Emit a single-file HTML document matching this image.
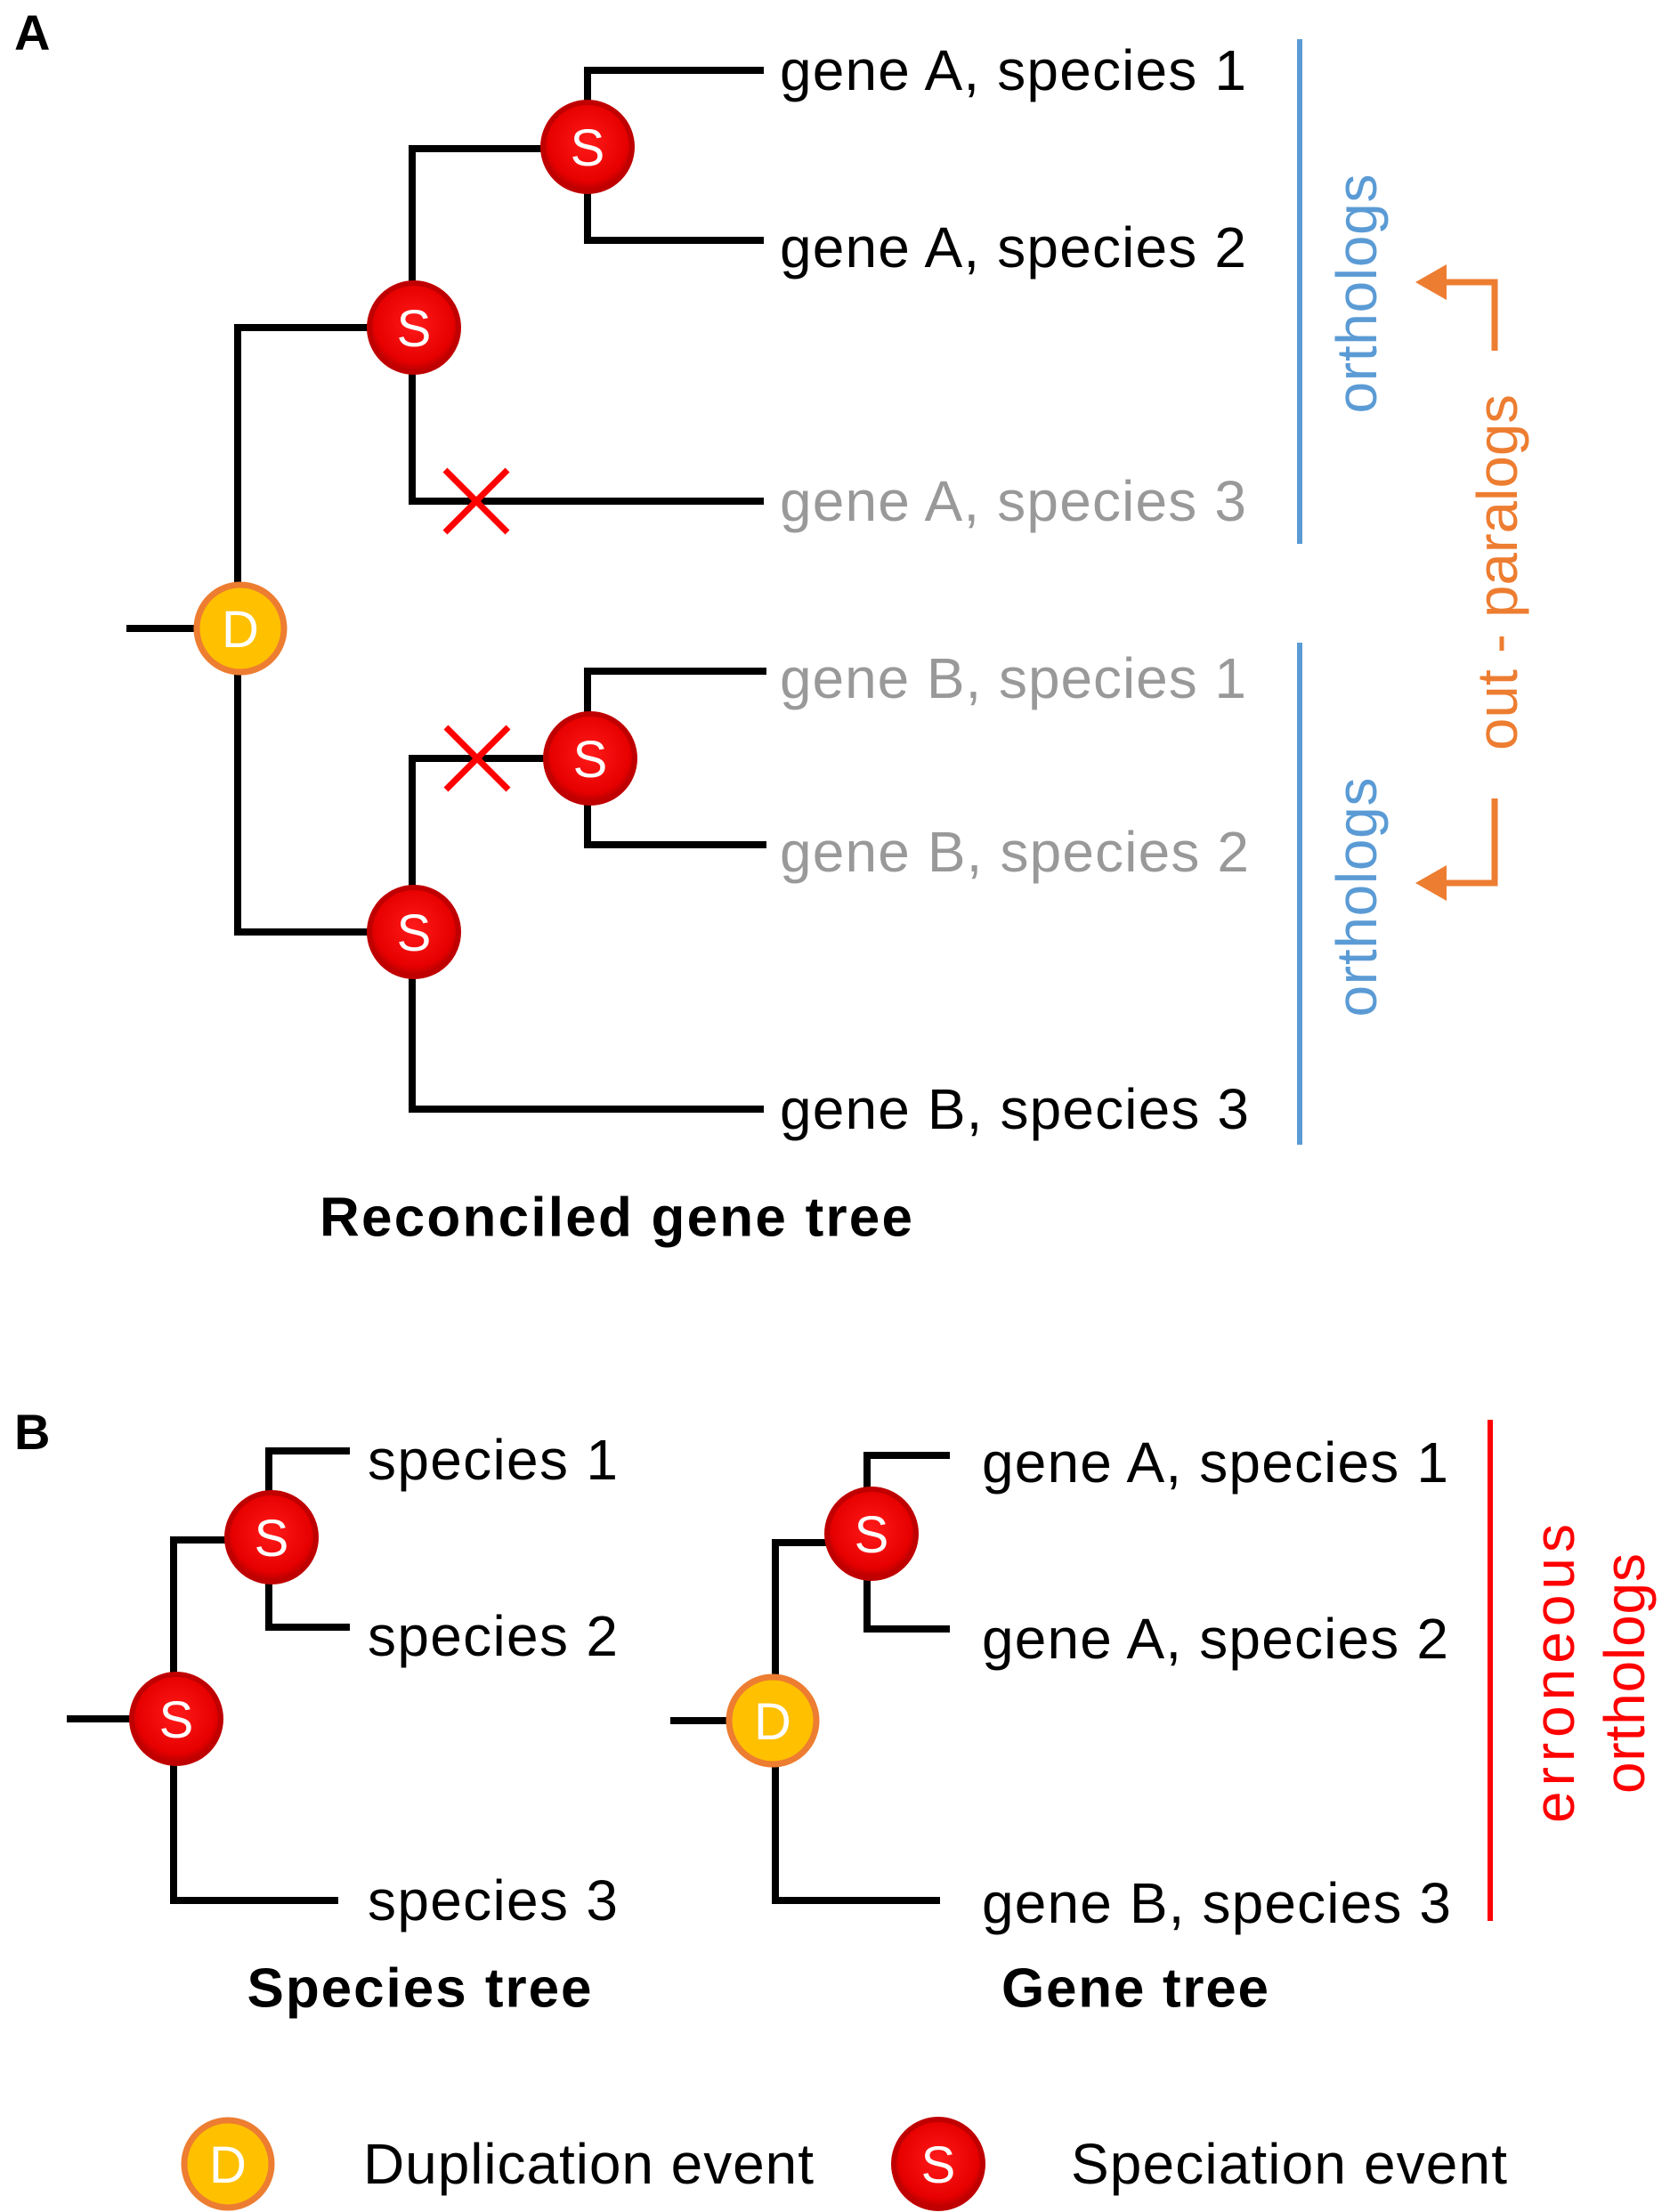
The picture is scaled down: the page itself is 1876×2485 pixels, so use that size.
<!DOCTYPE html>
<html><head><meta charset="utf-8"><style>html,body{margin:0;padding:0;background:#fff}svg{display:block}</style></head>
<body>
<svg width="1876" height="2485" viewBox="0 0 1876 2485" xmlns="http://www.w3.org/2000/svg" font-family="Liberation Sans, Arial, sans-serif">
<defs>
<radialGradient id="rs" cx="50%" cy="45%" r="55%"><stop offset="0" stop-color="#ff1a1a"/><stop offset="0.8" stop-color="#e60000"/><stop offset="1" stop-color="#b30000"/></radialGradient>
</defs>
<g stroke="#000" stroke-width="8" fill="none" stroke-linecap="square">
<line x1="146" y1="706" x2="222" y2="706"/>
<polyline points="465,368 267,368 267,1047 465,1047"/>
<polyline points="660,167 463,167 463,563 854,563"/>
<polyline points="854,79 660,79 660,270 854,270"/>
<polyline points="663,852 463,852 463,1246 854,1246"/>
<polyline points="857,754 660,754 660,949 857,949"/>
<line x1="79" y1="1931" x2="146" y2="1931"/>
<polyline points="305,1730 195,1730 195,2135 376,2135"/>
<polyline points="389,1630 302,1630 302,1828 389,1828"/>
<line x1="757" y1="1933" x2="817" y2="1933"/>
<polyline points="979,1733 871,1733 871,2135 1052,2135"/>
<polyline points="1063,1635 974,1635 974,1830 1063,1830"/>
</g>
<g stroke="#ff0000" stroke-width="7">
<line x1="500" y1="528" x2="570" y2="598"/><line x1="570" y1="528" x2="500" y2="598"/>
<line x1="501" y1="817" x2="571" y2="887"/><line x1="571" y1="817" x2="501" y2="887"/>
</g>
<g font-size="58" text-anchor="middle" fill="#fff">
<g stroke="#c00000" stroke-width="6" fill="url(#rs)">
<circle cx="660" cy="165" r="50"/><circle cx="465" cy="368" r="50"/>
<circle cx="663" cy="852" r="50"/><circle cx="465" cy="1047" r="50"/>
<circle cx="305" cy="1727" r="50"/><circle cx="198" cy="1931" r="50"/>
<circle cx="979" cy="1723" r="50"/><circle cx="1054" cy="2431" r="50"/>
</g>
<g stroke="#ed7d31" stroke-width="7" fill="#ffc000">
<circle cx="270" cy="706" r="49"/><circle cx="868" cy="1933" r="49"/><circle cx="256" cy="2431" r="49"/>
</g>
<text x="660" y="186">S</text><text x="465" y="389">S</text>
<text x="663" y="873">S</text><text x="465" y="1068">S</text>
<text x="305" y="1748">S</text><text x="198" y="1952">S</text>
<text x="979" y="1744">S</text><text x="1054" y="2452">S</text>
<text x="270" y="727">D</text><text x="868" y="1954">D</text><text x="256" y="2452">D</text>
</g>
<text x="16" y="56" font-size="56" font-weight="bold">A</text>
<text x="16" y="1628" font-size="56" font-weight="bold">B</text>
<g font-size="64" dominant-baseline="central" lengthAdjust="spacingAndGlyphs">
<text x="876" y="79" textLength="524">gene A, species 1</text>
<text x="876" y="278" textLength="524">gene A, species 2</text>
<text x="876" y="563" textLength="524" fill="#999">gene A, species 3</text>
<text x="876" y="762" textLength="524" fill="#999">gene B, species 1</text>
<text x="876" y="957" textLength="527" fill="#999">gene B, species 2</text>
<text x="876" y="1246" textLength="527">gene B, species 3</text>
<text x="413" y="1640" textLength="281">species 1</text>
<text x="413" y="1838" textLength="281">species 2</text>
<text x="413" y="2135" textLength="281">species 3</text>
<text x="1103" y="1643" textLength="524">gene A, species 1</text>
<text x="1103" y="1841" textLength="524">gene A, species 2</text>
<text x="1103" y="2138" textLength="527">gene B, species 3</text>
<text x="408" y="2431" textLength="506">Duplication event</text>
<text x="1203" y="2431" textLength="490">Speciation event</text>
</g>
<g font-size="62" font-weight="bold" text-anchor="middle" dominant-baseline="central" lengthAdjust="spacingAndGlyphs">
<text x="692" y="1368" textLength="666">Reconciled gene tree</text>
<text x="471" y="2234" textLength="387">Species tree</text>
<text x="1275" y="2234" textLength="300">Gene tree</text>
</g>
<g stroke="#5b9bd5" stroke-width="6"><line x1="1460" y1="44" x2="1460" y2="611"/><line x1="1460" y1="722" x2="1460" y2="1286"/></g>
<g font-size="64" fill="#5b9bd5" text-anchor="middle" dominant-baseline="central" lengthAdjust="spacingAndGlyphs">
<text transform="translate(1524,330) rotate(-90)" textLength="269">orthologs</text>
<text transform="translate(1524,1008) rotate(-90)" textLength="269">orthologs</text>
</g>
<g stroke="#ed7d31" stroke-width="7" fill="none"><polyline points="1679,394 1679,317 1615,317"/><polyline points="1679,897 1679,992 1615,992"/></g>
<g fill="#ed7d31"><polygon points="1590,317 1625,297 1625,337"/><polygon points="1590,992 1625,972 1625,1012"/></g>
<text transform="translate(1682,643) rotate(-90)" font-size="64" fill="#ed7d31" text-anchor="middle" dominant-baseline="central" textLength="400" lengthAdjust="spacingAndGlyphs">out - paralogs</text>
<line x1="1674" y1="1595" x2="1674" y2="2158" stroke="#ff0000" stroke-width="6"/>
<g font-size="64" fill="#ff0000" text-anchor="middle" dominant-baseline="central" lengthAdjust="spacingAndGlyphs">
<text transform="translate(1746,1880) rotate(-90)" textLength="336">erroneous</text>
<text transform="translate(1825,1880) rotate(-90)" textLength="270">orthologs</text>
</g>
</svg>
</body></html>
